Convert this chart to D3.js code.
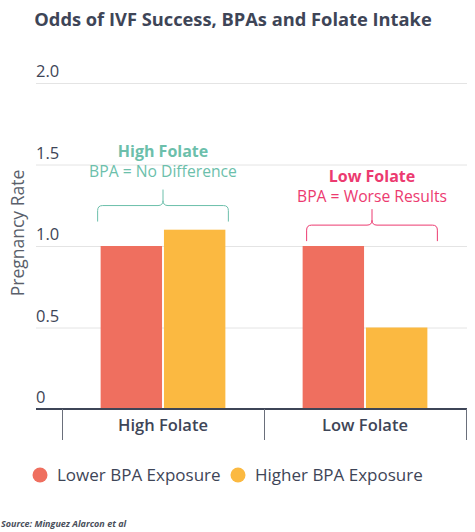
<!DOCTYPE html>
<html>
<head>
<meta charset="utf-8">
<script src="https://cdn.jsdelivr.net/npm/d3@7"></script>
<style>
  html, body { margin: 0; padding: 0; background: #fff; }
  svg { display: block; font-family: "Open Sans", sans-serif; }
</style>
</head>
<body>
<svg id="chart" width="475" height="532"></svg>
<script>
// ---- data ----
const categories = ["High Folate", "Low Folate"];
const seriesNames = ["Lower BPA Exposure", "Higher BPA Exposure"];
const lowerBPA = [1.0, 1.0];
const higherBPA = [1.1, 0.5];
const yTicks = [0, 0.5, 1.0, 1.5, 2.0];
const yTickLabels = ["0", "0.5", "1.0", "1.5", "2.0"];
const annoTitles = ["High Folate", "Low Folate"];
const annoTexts = ["BPA = No Difference", "BPA = Worse Results"];
const annoBracketValues = [1.15, 1.03];
const titleText = "Odds of IVF Success, BPAs and Folate Intake";
const yTitle = "Pregnancy Rate";
const sourceText = "Source: Minguez Alarcon et al";

// ---- styles ----
const colors = ["#ef6f5f", "#fbb941"];
const annoColors = ["#6cbfab", "#ec3a70"];
const textDark = "#3e4557";

const svg = d3.select("#chart");
const plotLeft = 36, plotRight = 467, plotTop = 83, plotBottom = 409;
const bandLeft = 62, bandRight = 466;

const y = d3.scaleLinear().domain([0, 2]).range([plotBottom, plotTop]);
const x0 = d3.scaleBand().domain(categories).range([bandLeft, bandRight]).paddingInner(0).paddingOuter(0);
const x1 = d3.scaleBand().domain(seriesNames).range([0, x0.bandwidth()]).paddingInner(0.03).paddingOuter(0.61);

// Title
svg.append("text").attr("x", 233).attr("y", 26).attr("text-anchor", "middle")
  .attr("font-size", 18.3).attr("font-weight", 700).attr("fill", textDark).text(titleText);

// Gridlines
svg.append("g").selectAll("line").data(yTicks.filter(d => d > 0)).join("line")
  .attr("x1", plotLeft).attr("x2", plotRight)
  .attr("y1", d => y(d) + 0.5).attr("y2", d => y(d) + 0.5)
  .attr("stroke", "#e4e4e4").attr("stroke-width", 1);

// Y tick labels
svg.append("g").selectAll("text").data(yTicks).join("text")
  .attr("x", plotLeft).attr("y", d => y(d) - 6)
  .attr("font-size", 16.5).attr("fill", textDark)
  .text((d, i) => yTickLabels[i]);

// Y title
svg.append("text").attr("transform", `translate(24,233) rotate(-90)`)
  .attr("text-anchor", "middle").attr("font-size", 17.5).attr("fill", "#5a5f6b").text(yTitle);

// Bars
const rows = categories.map((c, i) => ({ cat: c, vals: [lowerBPA[i], higherBPA[i]] }));
const groups = svg.append("g").selectAll("g").data(rows).join("g")
  .attr("transform", d => `translate(${x0(d.cat)},0)`);
groups.selectAll("rect").data(d => d.vals.map((v, j) => ({ v, s: seriesNames[j], j }))).join("rect")
  .attr("x", d => x1(d.s)).attr("width", x1.bandwidth())
  .attr("y", d => y(d.v)).attr("height", d => y(0) - y(d.v))
  .attr("fill", d => colors[d.j]);

// X axis
const xAxis = svg.append("g").attr("transform", `translate(0,${plotBottom})`);
xAxis.append("line").attr("x1", plotLeft).attr("x2", plotRight).attr("y1", 0).attr("y2", 0)
  .attr("stroke", textDark).attr("stroke-width", 2);
const boundaries = [bandLeft, ...categories.map(c => x0(c) + x0.bandwidth())];
xAxis.selectAll("line.tick").data(boundaries).join("line").attr("class", "tick")
  .attr("x1", d => d + 0.5).attr("x2", d => d + 0.5).attr("y1", 0).attr("y2", 31)
  .attr("stroke", "#6a6f7b").attr("stroke-width", 1);
xAxis.selectAll("text").data(categories).join("text")
  .attr("x", d => x0(d) + x0.bandwidth() / 2).attr("y", 22)
  .attr("text-anchor", "middle").attr("font-size", 16.5).attr("font-weight", 600).attr("fill", textDark)
  .text(d => d);

// Annotations with braces
const annoShift = [0, 7];
const annoTextShift = [0, 6];
categories.forEach((c, i) => {
  const gx0 = x0(c) + x1(seriesNames[0]) - 3 + annoShift[i];
  const gx1 = x0(c) + x1(seriesNames[1]) + x1.bandwidth() + 3 + annoShift[i];
  const xc = (gx0 + gx1) / 2;
  const yb = y(annoBracketValues[i]);
  const yh = yb - 16, yt = yh - 16, r = 5;
  const p = d3.path();
  p.moveTo(gx0, yb); p.lineTo(gx0, yh + r); p.quadraticCurveTo(gx0, yh, gx0 + r, yh);
  p.lineTo(xc - r, yh); p.quadraticCurveTo(xc, yh, xc, yh - r); p.lineTo(xc, yt);
  p.moveTo(xc, yh - r); p.quadraticCurveTo(xc, yh, xc + r, yh);
  p.lineTo(gx1 - r, yh); p.quadraticCurveTo(gx1, yh, gx1, yh + r); p.lineTo(gx1, yb);
  svg.append("path").attr("d", p.toString()).attr("fill", "none")
    .attr("stroke", annoColors[i]).attr("stroke-width", 1);
  svg.append("text").attr("x", xc).attr("y", yt - 33 + annoTextShift[i]).attr("text-anchor", "middle")
    .attr("font-size", 16).attr("font-weight", 700).attr("fill", annoColors[i]).text(annoTitles[i]);
  svg.append("text").attr("x", xc).attr("y", yt - 13 + annoTextShift[i]).attr("text-anchor", "middle")
    .attr("font-size", 15.7).attr("fill", annoColors[i]).text(annoTexts[i]);
});

// Legend
const legX = [40, 238];
seriesNames.forEach((s, i) => {
  svg.append("circle").attr("cx", legX[i]).attr("cy", 475).attr("r", 7.5).attr("fill", colors[i]);
  svg.append("text").attr("x", legX[i] + 17).attr("y", 481).attr("font-size", 17)
    .attr("fill", textDark).text(s);
});

// Source
svg.append("text").attr("x", 1).attr("y", 527).attr("font-size", 9)
  .attr("font-weight", 700).attr("font-style", "italic").attr("fill", "#4a4f5b").text(sourceText);
</script>
</body>
</html>
